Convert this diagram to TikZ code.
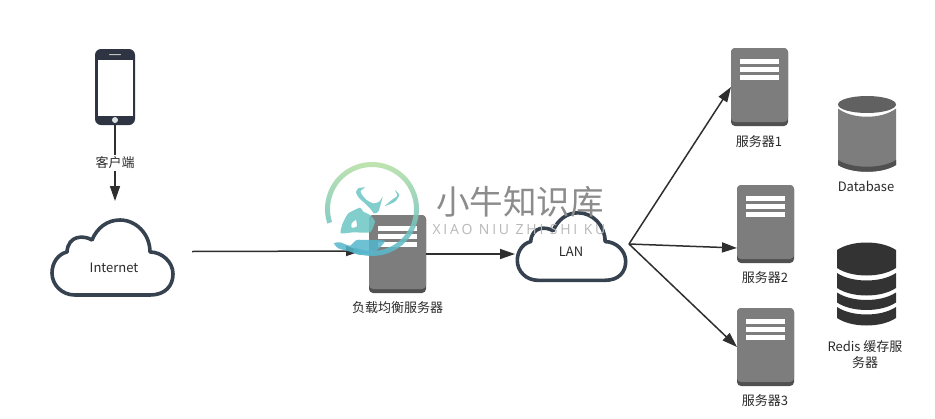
\documentclass[tikz,border=0pt]{standalone}
\usepackage{fontspec}
\usetikzlibrary{arrows.meta,calc}
\setmainfont{Noto Sans CJK SC}
\newfontfamily\wmlatin[LetterSpace=20]{Open Sans}
\definecolor{linec}{HTML}{2F2F2F}
\definecolor{cloudc}{HTML}{36424F}
\definecolor{srvbody}{HTML}{7D7D7D}
\definecolor{srvdark}{HTML}{505050}
\definecolor{phonec}{HTML}{2E3442}
\definecolor{redisc}{HTML}{333333}
\definecolor{lbl}{HTML}{2A2A2A}
\definecolor{wmteal}{HTML}{6CC6C4}
\definecolor{wmgreen}{HTML}{BCE3A2}
\definecolor{wmmid}{HTML}{7FD2BE}
\definecolor{wmbot}{HTML}{55B6CC}
\tikzset{
  conn/.style={draw=linec,line width=1.5pt,-{Triangle[length=15pt,width=10pt]}},
  lab/.style={text=lbl,font=\fontsize{13}{16}\selectfont,inner sep=0pt,align=center},
  iconbox/.style={inner sep=0pt,outer sep=0pt,minimum width=#1},
  serverbox/.style={inner sep=0pt,outer sep=0pt,minimum width=57pt,minimum height=78pt,rounded corners=4pt,fill=srvdark},
  cloudline/.style={draw=cloudc,line width=3.6pt,fill=white,line join=round},
  wmfill/.style={fill=wmteal,opacity=.85}
}
\newcommand{\serverparts}[1]{%
  \fill[srvbody,rounded corners=4pt] (#1.north west) rectangle ([yshift=4pt]#1.south east);
  \fill[white] ($(#1.north west)+(9,11)$) rectangle ($(#1.north west)+(48,15.7)$);
  \fill[white] ($(#1.north west)+(9,19)$) rectangle ($(#1.north west)+(48,23.7)$);
  \fill[white] ($(#1.north west)+(9,27)$) rectangle ($(#1.north west)+(48,31.7)$);
}
\newcommand{\cloudshape}{%
  \path[cloudline] (17,34) .. controls (8,36) and (2,45) .. (2,55)
    .. controls (2,67) and (12,77) .. (25,77) -- (100,77)
    .. controls (115,77) and (123,68) .. (123,56)
    .. controls (123,44) and (112,34) .. (100,34)
    .. controls (100,16) and (86,2) .. (70,2)
    .. controls (57,2) and (47,10) .. (42,22)
    .. controls (34,17) and (18,17) .. (17,34) -- cycle;
}
\begin{document}
\begin{tikzpicture}[x=1pt,y=-1pt]
\useasboundingbox (0,0) rectangle (935,418);
\fill[white] (0,0) rectangle (935,418);

% icons that carry connectors
\node[iconbox=40pt,minimum height=76pt,rounded corners=6pt,fill=phonec] (phone) at (115,87) {};
\fill[white] (97.5,59.5) rectangle (133,116);
\fill[white!85!phonec] (115,120) circle (3);
\fill[white!70!phonec,rounded corners=.5pt] (109,54) rectangle (121,55);

\node[iconbox=125pt,minimum height=79pt] (internet) at (112.5,257.5) {};
\begin{scope}[shift={(50,218)}]\cloudshape\end{scope}
\node[lab] (internetlabel) at (114,268) {Internet};

\node[serverbox] (lb) at (397.5,254) {};
\serverparts{lb}
\node[lab] (lblabel) at (397.5,308) {负载均衡服务器};

\node[iconbox=113pt,minimum height=71pt] (lan) at (571.5,246.5) {};
\begin{scope}[shift={(515.5,211)},xscale=.896,yscale=.9]\cloudshape\end{scope}
\node[lab] (lanlabel) at (571,252) {LAN};

\node[serverbox] (s1) at (759.5,87) {};
\serverparts{s1}
\node[lab] (s1label) at (759,142) {服务器1};
\node[serverbox] (s2) at (765.5,224) {};
\serverparts{s2}
\node[lab] (s2label) at (765,278) {服务器2};
\node[serverbox] (s3) at (765.5,347) {};
\serverparts{s3}
\node[lab] (s3label) at (765,401) {服务器3};

% database
\fill[srvbody] (838,108.5) .. controls (852,119.5) and (882,119.5) .. (896,108.5)
  -- (896,165) .. controls (882,174) and (852,174) .. (838,165) -- cycle;
\fill[srvdark] (838,160) .. controls (852,169) and (882,169) .. (896,160)
  -- (896,165) .. controls (882,174) and (852,174) .. (838,165) -- cycle;
\fill[srvdark!90!white] (867,104.5) ellipse (29 and 8.5);
\node[lab] (dblabel) at (866,186) {Database};

% redis
\fill[redisc] (837,250) .. controls (852,240) and (881,240) .. (896,250)
  -- (896,268) .. controls (881,278) and (852,278) .. (837,268) -- cycle;
\fill[redisc] (837,273) .. controls (852,283) and (881,283) .. (896,273)
  -- (896,288) .. controls (881,298) and (852,298) .. (837,288) -- cycle;
\fill[redisc] (837,292.5) .. controls (852,302.5) and (881,302.5) .. (896,292.5)
  -- (896,302.5) .. controls (881,312.5) and (852,312.5) .. (837,302.5) -- cycle;
\fill[redisc] (837,307) .. controls (852,317) and (881,317) .. (896,307)
  -- (896,318) .. controls (881,328) and (852,328) .. (837,318) -- cycle;
\node[lab] (redislabel) at (865,355) {Redis 缓存服\\务器};

% connectors
\coordinate (phonetip) at ([xshift=2.5pt,yshift=17pt]internet.north);
\draw[conn] (phone.south) -- node[lab,fill=white,inner ysep=2pt,midway] (phonelabel) {客户端} (phonetip);
\draw[conn] ([xshift=17pt,yshift=6pt]internet.east) -- ([xshift=-8pt,yshift=3pt]lb.west);
\draw[conn] (lb.east) -- ([yshift=-7.5pt]lan.west);
\coordinate (hub) at (629,244);
\draw[conn] (hub) -- (s1.west);
\draw[conn] (hub) -- ([yshift=-24pt]s2.west);
\draw[conn] (hub) -- (s3.west);

% watermark
\path[top color=wmgreen,middle color=wmmid,bottom color=wmbot,opacity=.88,even odd rule]
  (372,209) ++(162:47) arc[start angle=162,end angle=474,radius=47]
  -- ++(114:-5) arc[start angle=474,end angle=162,radius=42] -- cycle;
\begin{scope}[shift={(320,155)},x=.3333pt,y=-.3333pt]
  \fill[wmfill] plot[smooth cycle,tension=.35] coordinates {(135,97) (115,100) (108,112) (118,130) (135,145) (150,160) (162,175) (175,170) (188,125) (178,140) (160,145) (140,135) (125,118) (122,108)};
  \fill[wmfill] plot[smooth cycle,tension=.35] coordinates {(225,105) (238,120) (225,140) (195,153) (215,135) (232,122)};
  \fill[wmfill,even odd rule] plot[smooth cycle,tension=.3] coordinates {(120,158) (85,175) (68,205) (62,235) (100,232) (150,232) (165,200) (150,180) (130,170)}
    plot[smooth cycle,tension=.4] coordinates {(95,205) (108,195) (110,215) (95,218)};
  \fill[fill=wmbot,opacity=.85] plot[smooth cycle,tension=.35] coordinates {(42,265) (60,262) (90,272) (110,255) (150,255) (195,258) (165,290) (120,300) (90,290) (55,280)};
\end{scope}
\node[inner sep=0pt,text=black!45,font=\fontsize{33.5}{36}\selectfont] (wmtitle) at (520,202) {小牛知识库};
\node[inner sep=0pt,text=black!28,font=\fontsize{14}{16}\wmlatin] (wmsub) at (519,229) {XIAO NIU ZHI SHI KU};
\end{tikzpicture}
\end{document}
